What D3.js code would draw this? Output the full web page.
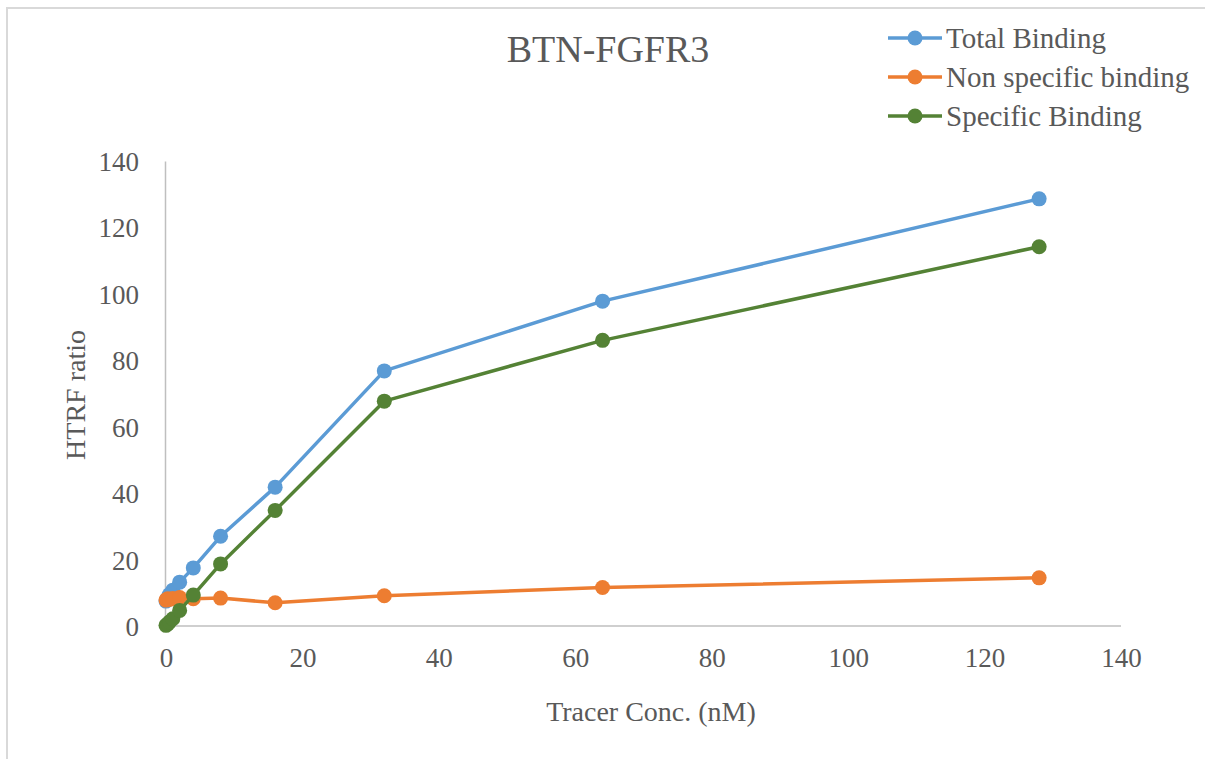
<!DOCTYPE html>
<html>
<head>
<meta charset="utf-8">
<script src="https://cdn.jsdelivr.net/npm/d3@7"></script>
<style>
  html, body { margin: 0; padding: 0; background: #fff; }
  svg { display: block; }
  svg text { font-family: 'Liberation Serif', 'Times New Roman', Times, 'DejaVu Serif', serif !important; fill: #595959; }
</style>
</head>
<body>
<svg id="chart" width="1205" height="759"></svg>
<script>
// ---- data ----
const conc = [0, 0.25, 0.5, 1, 2, 4, 8, 16, 32, 64, 128];
const totalBinding = [7.5, 8.5, 9.5, 10.8, 13.2, 17.5, 27.0, 41.8, 76.8, 97.8, 128.6];
const nonSpecific = [7.8, 8.2, 8.0, 8.3, 8.6, 8.2, 8.4, 7.0, 9.1, 11.6, 14.5];
const specificBinding = [0.2, 0.6, 1.2, 2.2, 4.7, 9.3, 18.7, 34.8, 67.7, 86.0, 114.2];
const seriesNames = ["Total Binding", "Non specific binding", "Specific Binding"];
const xTicks = [0, 20, 40, 60, 80, 100, 120, 140];
const yTicks = [0, 20, 40, 60, 80, 100, 120, 140];
const title = "BTN-FGFR3";
const xTitle = "Tracer Conc. (nM)";
const yTitle = "HTRF ratio";

const colors = ["#5B9BD5", "#ED7D31", "#548235"];
const seriesValues = [totalBinding, nonSpecific, specificBinding];
const FONT = "'Liberation Serif', 'Times New Roman', Times, 'DejaVu Serif', serif";

const svg = d3.select("#chart");

// chart border
svg.append("rect").attr("x", 7).attr("y", 8).attr("width", 1400).attr("height", 900)
  .attr("fill", "none").attr("stroke", "#d9d9d9").attr("stroke-width", 2);

const x = d3.scaleLinear().domain([0, 140]).range([166, 1121]);
const y = d3.scaleLinear().domain([0, 140]).range([626, 161]);

// axes
const xAxis = d3.axisBottom(x).tickValues(xTicks).tickSize(0).tickPadding(22).tickFormat(d3.format("d"));
const yAxis = d3.axisLeft(y).tickValues(yTicks).tickSize(0).tickPadding(26).tickFormat(d3.format("d"));

const gx = svg.append("g").attr("transform", `translate(0,${y(0)})`).call(xAxis);
const gy = svg.append("g").attr("transform", `translate(${x(0) - 1},0)`).call(yAxis);
[gx, gy].forEach(g => {
  g.attr("font-family", FONT).attr("font-size", 27);
  g.select(".domain").attr("stroke", "#bfbfbf").attr("stroke-width", 1.5);
  g.selectAll("text").attr("font-family", FONT).attr("font-size", 27).attr("fill", "#595959");
});
gx.select(".domain").attr("d", `M${x(0) - 1},0H${x(140)}`);
gy.selectAll("text").attr("dy", "0.35em");

// lines
const line = d3.line().x((d, i) => x(conc[i])).y(d => y(d));
seriesValues.forEach((vals, s) => {
  svg.append("path").datum(vals).attr("d", line)
    .attr("fill", "none").attr("stroke", colors[s]).attr("stroke-width", 3.5)
    .attr("stroke-linejoin", "round");
  svg.append("g").selectAll("circle").data(vals).join("circle")
    .attr("cx", (d, i) => x(conc[i])).attr("cy", d => y(d)).attr("r", 7.5)
    .attr("fill", colors[s]);
});

// title
svg.append("text").attr("x", 608).attr("y", 62).attr("text-anchor", "middle")
  .attr("font-family", FONT).attr("font-size", 38).text(title);

// axis titles
svg.append("text").attr("x", 651).attr("y", 721).attr("text-anchor", "middle")
  .attr("font-family", FONT).attr("font-size", 28).text(xTitle);
svg.append("text").attr("transform", "translate(85,395) rotate(-90)").attr("text-anchor", "middle")
  .attr("font-family", FONT).attr("font-size", 28).text(yTitle);

// legend
const leg = svg.append("g");
seriesNames.forEach((name, i) => {
  const cy = 38 + i * 39;
  leg.append("line").attr("x1", 888).attr("x2", 942).attr("y1", cy).attr("y2", cy)
    .attr("stroke", colors[i]).attr("stroke-width", 3.5);
  leg.append("circle").attr("cx", 915).attr("cy", cy).attr("r", 7.5).attr("fill", colors[i]);
  leg.append("text").attr("x", 946).attr("y", cy + 10)
    .attr("font-family", FONT).attr("font-size", 29).text(name);
});
</script>
</body>
</html>
